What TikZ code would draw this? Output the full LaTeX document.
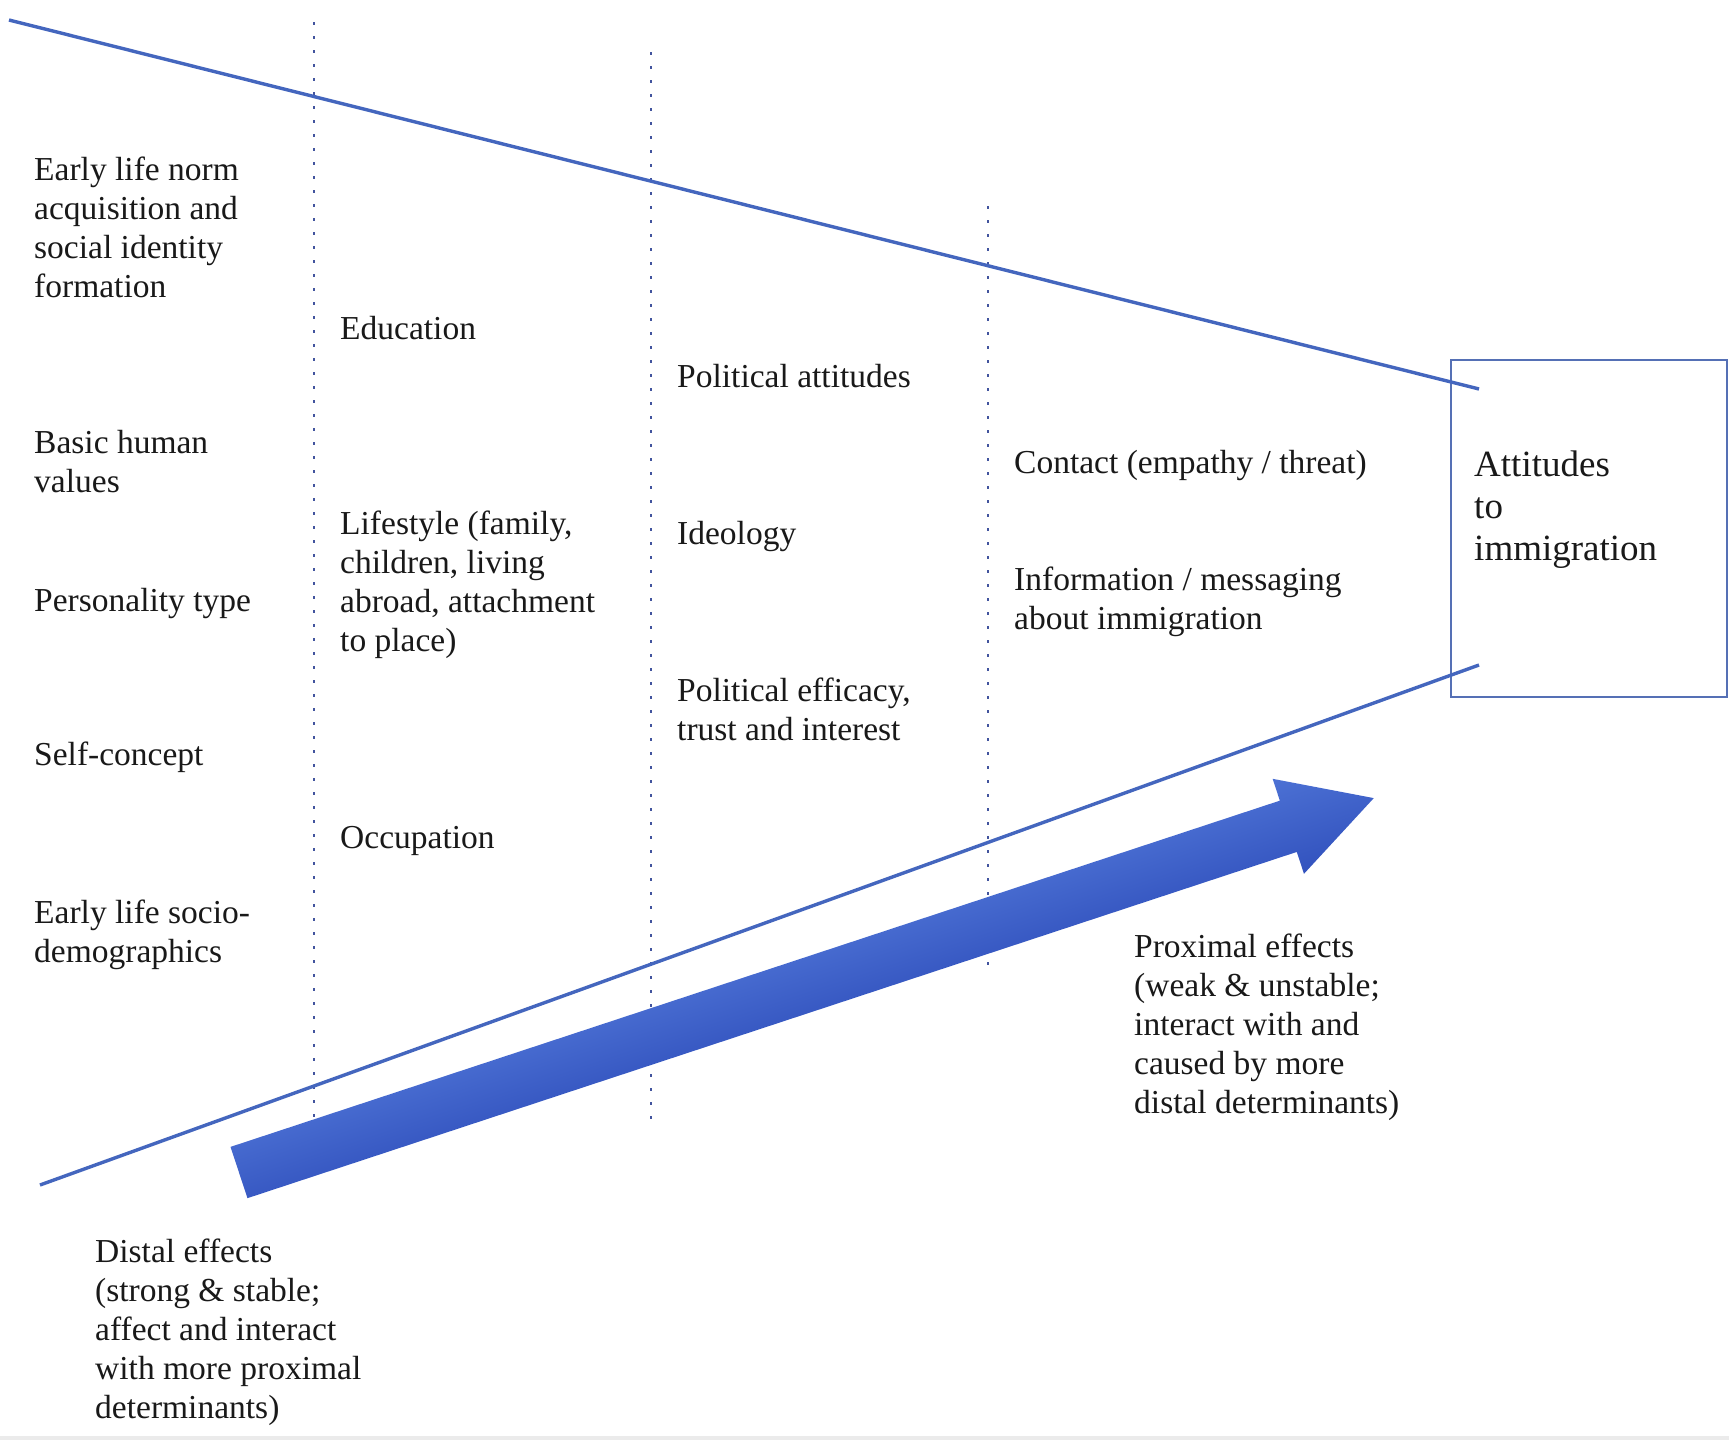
\documentclass[tikz,border=0pt]{standalone}
\usepackage{fontspec}
\setmainfont{Liberation Serif}
\definecolor{linecol}{HTML}{4466BE}
\definecolor{dotcol}{HTML}{42549E}
\definecolor{boxcol}{HTML}{5570B5}
\definecolor{arrlight}{HTML}{4C71D4}
\definecolor{arrdark}{HTML}{3252BE}
\tikzset{
  txt/.style={font=\fontsize{33.5}{39}\selectfont, align=left, inner sep=0pt, anchor=base west, text=black!90},
  bigtxt/.style={font=\fontsize{37}{42}\selectfont, align=left, inner sep=0pt, anchor=base west, text=black!90},
  mainline/.style={draw=linecol, line width=3.4pt},
  divider/.style={draw=dotcol, line width=2.7pt, dash pattern=on 2.7pt off 11.3pt},
  targetbox/.style={draw=boxcol, line width=2pt, minimum width=276pt, minimum height=337pt, inner sep=0pt}
}
\begin{document}
\begin{tikzpicture}[x=1pt, y=-1pt]
\useasboundingbox (0,0) rectangle (1729,1440);
\fill[white] (0,0) rectangle (1729,1440);
\fill[black!8] (0,1436) rectangle (1729,1440);

% dotted dividers
\coordinate (d1a) at (314,22);   \coordinate (d1b) at (314,1182);
\coordinate (d2a) at (651,52);   \coordinate (d2b) at (651,1119);
\coordinate (d3a) at (988,206);  \coordinate (d3b) at (988,973);
\draw[divider] (d1a) -- (d1b);
\draw[divider] (d2a) -- (d2b);
\draw[divider] (d3a) -- (d3b);

% target box
\node[targetbox] (target) at (1589,528.5) {};
% anchor base = baseline of the last line
\node[bigtxt] (targettext) at (1474,560) {Attitudes\\to\\immigration};

% funnel lines
\coordinate (topstart) at (9,20);
\coordinate (topend) at (1479,389);
\coordinate (botstart) at (40,1185);
\coordinate (botend) at (1479,665);
\draw[mainline] (topstart) -- (topend);
\draw[mainline] (botstart) -- (botend);

% big arrow
\begin{scope}[transform canvas={shift={(239,1172.5)}, rotate=18.26}]
  \shade[top color=arrlight, bottom color=arrdark]
    (0,-27) -- (1105,-27) -- (1105,-50) -- (1195,0) -- (1105,50) -- (1105,27) -- (0,27) -- cycle;
\end{scope}

% column 1 (positions are baselines of the last line)
\node[txt] (norm) at (34,297) {Early life norm\\acquisition and\\social identity\\formation};
\node[txt] (values) at (34,492) {Basic human\\values};
\node[txt] (personality) at (34,611) {Personality type};
\node[txt] (selfconcept) at (34,765) {Self-concept};
\node[txt] (socio) at (34,962) {Early life socio-\\demographics};

% column 2
\node[txt] (education) at (340,339) {Education};
\node[txt] (lifestyle) at (340,651) {Lifestyle (family,\\children, living\\abroad, attachment\\to place)};
\node[txt] (occupation) at (340,848) {Occupation};

% column 3
\node[txt] (polatt) at (677,387) {Political attitudes};
\node[txt] (ideology) at (677,544) {Ideology};
\node[txt] (efficacy) at (677,740) {Political efficacy,\\trust and interest};

% column 4
\node[txt] (contact) at (1014,473) {Contact (empathy / threat)};
\node[txt] (info) at (1014,629) {Information / messaging\\about immigration};

% effect labels
\node[txt] (proximal) at (1134,1113) {Proximal effects\\(weak \& unstable;\\interact with and\\caused by more\\distal determinants)};
\node[txt] (distal) at (95,1418) {Distal effects\\(strong \& stable;\\affect and interact\\with more proximal\\determinants)};
\end{tikzpicture}
\end{document}
